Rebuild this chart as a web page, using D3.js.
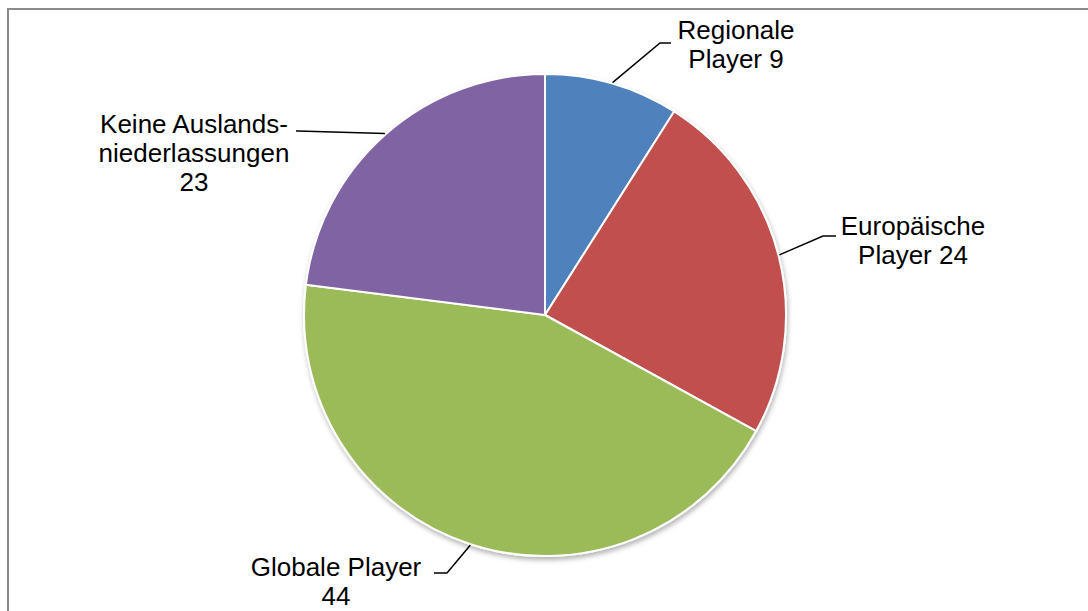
<!DOCTYPE html>
<html>
<head>
<meta charset="utf-8">
<script src="https://cdn.jsdelivr.net/npm/d3@7"></script>
<style>
  html, body { margin: 0; padding: 0; background: #fff; }
  svg { display: block; }
  text { font-family: "Liberation Sans", Arial, sans-serif; font-size: 26px; fill: #000; }
</style>
</head>
<body>
<svg id="chart" width="1088" height="611"></svg>
<script>
// Unternehmen nach Internationalisierungsgrad
const categories = ["Regionale Player", "Europäische Player", "Globale Player", "Keine Auslandsniederlassungen"];
const values = [9, 24, 44, 23];
const colors = ["#4F81BD", "#C0504D", "#9BBB59", "#8064A2"];
// label text lines per slice
const labelLines = [
  ["Regionale", "Player 9"],
  ["Europäische", "Player 24"],
  ["Globale Player", "44"],
  ["Keine Auslands-", "niederlassungen", "23"]
];

const W = 1088, H = 611;
const cx = 545, cy = 315, R = 241;

const svg = d3.select("#chart");

// chart area frame
svg.append("rect")
  .attr("x", 8).attr("y", 9)
  .attr("width", W + 20).attr("height", H + 20)
  .attr("fill", "none")
  .attr("stroke", "#8a8a8a")
  .attr("stroke-width", 2);

const defs = svg.append("defs");
const shadow = defs.append("filter").attr("id", "pieShadow")
  .attr("x", "-10%").attr("y", "-10%").attr("width", "120%").attr("height", "120%");
shadow.append("feDropShadow")
  .attr("dx", 1).attr("dy", 3).attr("stdDeviation", 2.5)
  .attr("flood-color", "#000").attr("flood-opacity", 0.3);

const data = categories.map((c, i) => ({ name: c, value: values[i], color: colors[i], lines: labelLines[i] }));

const pie = d3.pie().sort(null).value(d => d.value);
const arcs = pie(data);
const arc = d3.arc().innerRadius(0).outerRadius(R);

const g = svg.append("g").attr("transform", `translate(${cx},${cy})`);

g.append("g").attr("filter", "url(#pieShadow)")
  .selectAll("path")
  .data(arcs)
  .join("path")
  .attr("d", arc)
  .attr("fill", d => d.data.color)
  .attr("stroke", "#fff")
  .attr("stroke-width", 2)
  .attr("stroke-linejoin", "round");

// label layout: elbow and line end, text anchor point and line spacing
const labelLayout = [
  { elbow: [660, 43], end: [671, 43], tx: 736, ty: 39, lh: 29 },
  { elbow: [823, 236], end: [836, 236], tx: 913, ty: 235, lh: 29 },
  { elbow: [447, 573], end: [434, 573], tx: 336, ty: 576, lh: 29 },
  { elbow: [298, 131], end: [296, 131], tx: 194, ty: 133, lh: 29 }
];

const labels = svg.append("g");
arcs.forEach((a, i) => {
  const mid = (a.startAngle + a.endAngle) / 2;
  const sx = cx + Math.sin(mid) * (R + 1);
  const sy = cy - Math.cos(mid) * (R + 1);
  const L = labelLayout[i];
  labels.append("polyline")
    .attr("points", [[sx, sy], L.elbow, L.end].map(p => p.join(",")).join(" "))
    .attr("fill", "none")
    .attr("stroke", "#000")
    .attr("stroke-width", 1.5);
  const t = labels.append("text")
    .attr("text-anchor", "middle");
  a.data.lines.forEach((ln, k) => {
    t.append("tspan")
      .attr("x", L.tx)
      .attr("y", L.ty + k * L.lh)
      .text(ln);
  });
});
</script>
</body>
</html>
